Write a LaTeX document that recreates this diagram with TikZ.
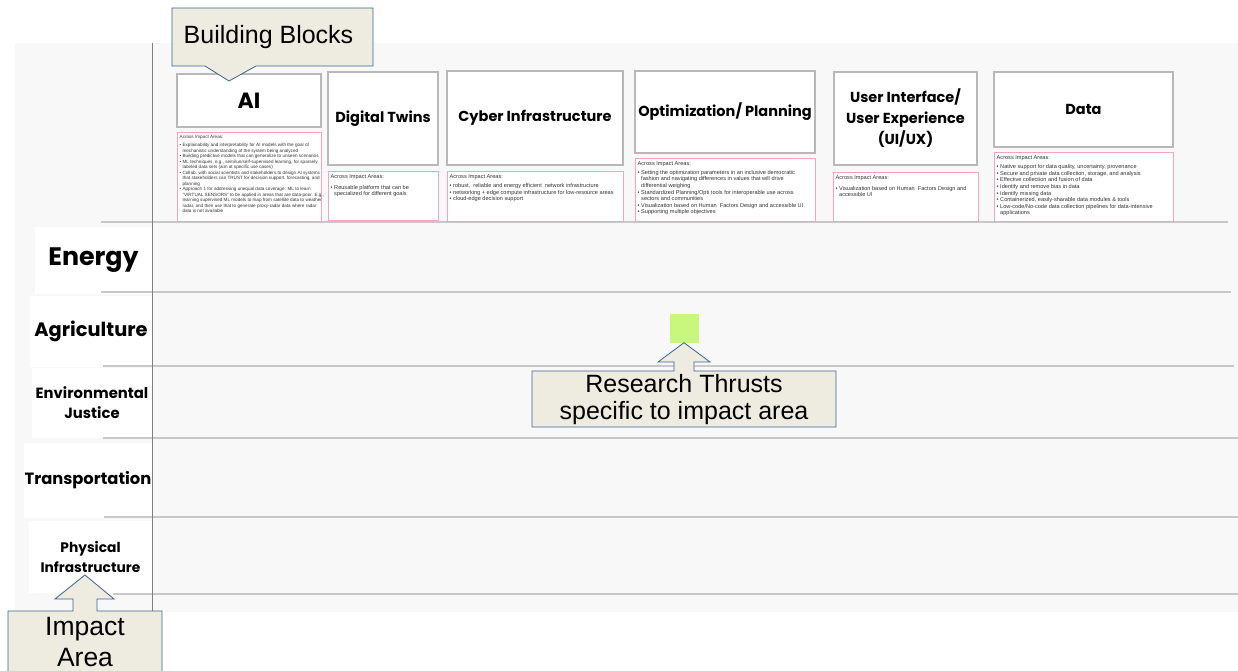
\documentclass[tikz,border=0pt]{standalone}
\usepackage{fontspec}
\setmainfont{Liberation Sans}
\newfontfamily\headfont{Poppins}
\usepackage{tikz}
\usetikzlibrary{positioning}
\definecolor{panelgray}{HTML}{F8F8F8}
\definecolor{blockgray}{HTML}{B8B8B8}
\definecolor{pinkline}{HTML}{F5A3C0}
\definecolor{gridgray}{HTML}{C8C8C8}
\definecolor{calloutfill}{HTML}{EEECE1}
\definecolor{calloutblue}{HTML}{3C6496}
\definecolor{thrustgreen}{HTML}{C9F77D}
\definecolor{smalltext}{HTML}{333333}
\newcommand{\bul}{\textbullet~}
\newcommand{\cnt}{\phantom{\textbullet~}}

\begin{document}
\begin{tikzpicture}[x=1pt,y=-1pt,
  block/.style={draw=blockgray,fill=white,line width=1.1pt,inner sep=0,align=center,
    font=\headfont\bfseries\fontsize{14.5}{21}\selectfont},
  impbox/.style={draw=pinkline,fill=white,line width=1pt,inner sep=0},
  imptext/.style={anchor=north west,inner sep=0,align=left,text=smalltext,
    font=\fontsize{5.6}{6.6}\selectfont},
  rowbox/.style={fill=white,inner sep=0,align=center,font=\headfont\bfseries},
  callout/.style={draw=calloutblue,fill=calloutfill,line width=0.8pt},
  calltext/.style={inner sep=0,align=center,font=\fontsize{25}{27}\selectfont},
  node distance=4pt]
\useasboundingbox (0,0) rectangle (1238,671);
% panel
\fill[panelgray] (15,43) rectangle (1238,612);
% impact area labels
\node[rowbox,minimum width=117,minimum height=67,font=\headfont\bfseries\fontsize{25.3}{30}\selectfont] (energy) at (93.5,260) {Energy};
\node[rowbox,minimum width=122,minimum height=71,font=\headfont\bfseries\fontsize{19.4}{24}\selectfont] (agri) at (91,331) {Agriculture};
\node[rowbox,minimum width=120,minimum height=70,font=\headfont\bfseries\fontsize{14.8}{20}\selectfont] (envjust) at (92,403) {Environmental\\Justice};
\node[rowbox,minimum width=128,minimum height=75,font=\headfont\bfseries\fontsize{16.3}{20}\selectfont] (transp) at (88,480) {Transportation};
\node[rowbox,minimum width=123,minimum height=72,font=\headfont\bfseries\fontsize{13.8}{20}\selectfont] (physinf) at (90.5,557) {Physical\\Infrastructure};
% rows
\foreach \y/\a/\b in {222/101/1228,292/101/1231,366/103/1234,438/103/1238,517/104/1238,594/113/1238}
  \draw[gridgray,line width=1.2pt] (\a,\y) -- (\b,\y);
\draw[gray,line width=0.7pt] (152,43) -- (152,612);

% building blocks
\node[block,minimum width=144,minimum height=53,font=\headfont\bfseries\fontsize{22}{26}\selectfont] (ai) at (249,100.5) {AI};
\node[block,minimum width=110,minimum height=93] (twins) at (383,118.5) {Digital Twins};
\node[block,minimum width=176,minimum height=94] (cyber) at (535,118) {Cyber Infrastructure};
\node[block,minimum width=180,minimum height=82] (opt) at (725,112) {Optimization/ Planning};
\node[block,minimum width=143,minimum height=93] (uiux) at (905.5,118.5) {User Interface/\\User Experience\\(UI/UX)};
\node[block,minimum width=179,minimum height=75] (data) at (1083.5,109.5) {Data};

\node[impbox,minimum width=144,minimum height=89,below=of ai] (aiimp) {};
\node[impbox,minimum width=110,minimum height=49,below=5pt of twins] (twinsimp) {};
\node[impbox,minimum width=176,minimum height=50,below=5pt of cyber] (cyberimp) {};
\node[impbox,minimum width=180,minimum height=63,below=of opt] (optimp) {};
\node[impbox,minimum width=145,minimum height=49,below=6pt of uiux] (uiuximp) {};
\node[impbox,minimum width=179,minimum height=69,below=of data] (dataimp) {};

\node[imptext,font=\fontsize{4.6}{5.5}\selectfont] (aitxt) at ([shift={(3,3.5)}]aiimp.north west) {%
Across Impact Areas:\\[2.6pt]
\bul Explainability and interpretability for AI models with the goal of\\
\cnt mechanistic understanding of the system being analyzed\\
\bul Building predictive models that can generalize to unseen scenarios\\
\bul ML techniques, e.g., semi/un/self-supervised learning, for sparsely\\
\cnt labeled data sets (aim at specific use cases)\\
\bul Collab. with social scientists and stakeholders to design AI systems\\
\cnt that stakeholders can TRUST for decision support, forecasting, and\\
\cnt planning\\
\bul Approach 1 for addressing unequal data coverage: ML to learn\\
\cnt "VIRTUAL SENSORS" to be applied in areas that are data-poor. E.g.,\\
\cnt learning supervised ML models to map from satellite data to weather\\
\cnt radar, and then use that to generate proxy-radar data where radar\\
\cnt data is not available};
\node[imptext] (twinstxt) at ([shift={(3,4)}]twinsimp.north west) {%
Across Impact Areas:\\[4pt]
\bul Reusable platform that can be\\
\cnt specialized for different goals};
\node[imptext] (cybertxt) at ([shift={(3,4)}]cyberimp.north west) {%
Across Impact Areas:\\[2.5pt]
\bul robust,\ \ reliable and energy efficient\ \ network infrastructure\\
\bul networking + edge compute infrastructure for low-resource areas\\
\bul cloud-edge decision support};
\node[imptext] (opttxt) at ([shift={(3,3.5)}]optimp.north west) {%
Across Impact Areas:\\[2.5pt]
\bul Setting the optimization parameters in an inclusive democratic\\
\cnt fashion and navigating differences in values that will drive\\
\cnt differential weighing\\
\bul Standardized Planning/Opti tools for interoperable use across\\
\cnt sectors and communities\\
\bul Visualization based on Human\ \ Factors Design and accessible UI\\
\bul Supporting multiple objectives};
\node[imptext] (uiuxtxt) at ([shift={(3,4)}]uiuximp.north west) {%
Across Impact Areas:\\[4pt]
\bul Visualization based on Human\ \ Factors Design and\\
\cnt accessible UI};
\node[imptext] (datatxt) at ([shift={(3,4)}]dataimp.north west) {%
Across Impact Areas:\\[2.5pt]
\bul Native support for data quality, uncertainty, provenance\\
\bul Secure and private data collection, storage, and analysis\\
\bul Effective collection and fusion of data\\
\bul Identify and remove bias in data\\
\bul Identify missing data\\
\bul Containerized, easily-sharable data modules \& tools\\
\bul Low-code/No-code data collection pipelines for data-intensive\\
\cnt applications};

% callouts
\draw[callout] (172,8) -- (373,8) -- (373,66) -- (256,66) -- (229,81) -- (205,66) -- (172,66) -- cycle;
\node[calltext] (bbtext) at (268.5,37) {Building Blocks};

\node[fill=thrustgreen,minimum size=29,inner sep=0] (thrust) at (684,328) {};
\draw[callout] (532,371) -- (674,371) -- (674,362) -- (658,362) -- (thrust.south) -- (710,362) -- (694,362) -- (694,371)
  -- (836,371) -- (836,427) -- (532,427) -- cycle;
\node[calltext] (rttext) at (684,399.5) {Research Thrusts\\specific to impact area};

\draw[callout] (8,611) -- (73,611) -- (73,599) -- (55,599) -- (85,575) -- (114,599) -- (97,599) -- (97,611)
  -- (162,611) -- (162,676) -- (8,676) -- cycle;
\node[calltext,font=\fontsize{26.5}{31}\selectfont] (iatext) at (85,642.5) {Impact\\Area};
\end{tikzpicture}
\end{document}
